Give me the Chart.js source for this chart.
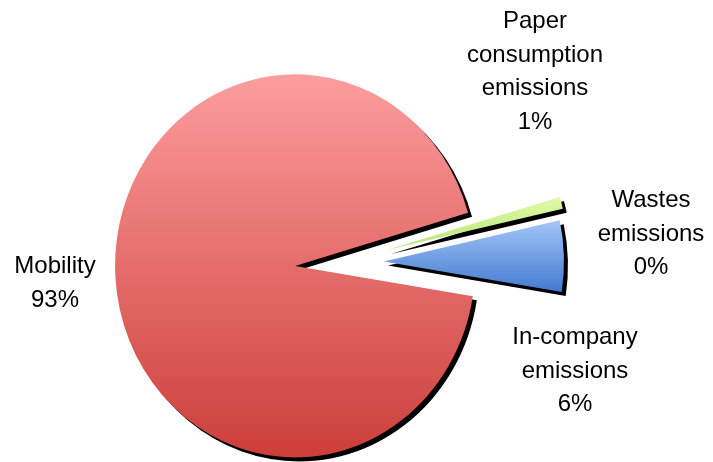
<!DOCTYPE html>
<html>
<head>
<meta charset="utf-8">
<script src="https://cdn.jsdelivr.net/npm/chart.js@4.4.1/dist/chart.umd.min.js"></script>
<style>
  html, body { margin: 0; padding: 0; background: #ffffff; }
  canvas { display: block; }
</style>
</head>
<body>
<canvas id="emissions" width="713" height="462"></canvas>
<script>
// Emission sources and their share of the total (%)
const categories = ['Mobility', 'Paper consumption emissions', 'Wastes emissions', 'In-company emissions'];
const shares = [93, 1, 0, 6];
// Label text per slice (the percentage is appended from shares)
const labelNames = [['Mobility'], ['Paper', 'consumption', 'emissions'], ['Wastes', 'emissions'], ['In-company', 'emissions']];

// Styling / layout
const pieRadius = 180;          // px
const rotationDeg = 99.1;       // start of first slice (Chart.js convention)
const explodeBy = [44.5, 49, 0, 44.5];   // px each slice is pulled out
const verticalStretch = 1.064;
const gradientStops = [
  ['rgb(252,157,157)', 'rgb(204,62,58)'],
  ['rgb(224,250,168)', 'rgb(186,228,120)'],
  ['rgb(200,200,200)', 'rgb(150,150,150)'],
  ['rgb(163,198,247)', 'rgb(68,122,208)']
];
const labelAnchors = [[55, 273], [535, 28], [651, 207], [575, 344]];
const lineHeight = 33.5;
const labelFont = '24px "Liberation Sans", Arial, sans-serif';

function sliceAngles(i) {
  const total = shares.reduce((a, b) => a + b, 0);
  let a = (rotationDeg - 90) * Math.PI / 180;
  for (let k = 0; k < i; k++) a += shares[k] / total * 2 * Math.PI;
  return [a, a + shares[i] / total * 2 * Math.PI];
}

function sliceGradient(context) {
  const chart = context.chart;
  const i = context.dataIndex;
  const area = chart.chartArea;
  if (!area || i === undefined) return gradientStops[0][0];
  const cy = (area.top + area.bottom) / 2;
  const [a0, a1] = sliceAngles(i);
  const mid = (a0 + a1) / 2;
  const oy = cy + Math.sin(mid) * explodeBy[i];
  let lo = 0, hi = 0;
  for (let t = 0; t <= 90; t++) {
    const s = Math.sin(a0 + (a1 - a0) * t / 90);
    lo = Math.min(lo, s); hi = Math.max(hi, s);
  }
  if (hi - lo < 1e-3) hi = lo + 0.01;
  const g = chart.ctx.createLinearGradient(0, oy + lo * pieRadius, 0, oy + hi * pieRadius);
  g.addColorStop(0, gradientStops[i][0]);
  g.addColorStop(1, gradientStops[i][1]);
  return g;
}

// Pull slices outward along their mid angle, stretch vertically, drop shadow, labels
const pieDecor = {
  id: 'pieDecor',
  afterUpdate(chart) {
    chart.getDatasetMeta(0).data.forEach((arc, i) => {
      const mid = (arc.startAngle + arc.endAngle) / 2;
      arc.x += Math.cos(mid) * explodeBy[i];
      arc.y += Math.sin(mid) * explodeBy[i];
    });
  },
  beforeDatasetsDraw(chart) {
    const { ctx, chartArea } = chart;
    const cx = (chartArea.left + chartArea.right) / 2;
    const cy = (chartArea.top + chartArea.bottom) / 2;
    ctx.save();
    ctx.translate(cx, cy);
    ctx.scale(1, verticalStretch);
    ctx.translate(-cx, -cy);
    ctx.shadowColor = '#000000';
    ctx.shadowBlur = 0;
    ctx.shadowOffsetX = 4;
    ctx.shadowOffsetY = 4;
  },
  afterDatasetsDraw(chart) {
    chart.ctx.restore();
  },
  afterDraw(chart) {
    const ctx = chart.ctx;
    ctx.save();
    ctx.font = labelFont;
    ctx.fillStyle = '#000000';
    ctx.textAlign = 'center';
    ctx.textBaseline = 'alphabetic';
    labelNames.forEach((names, i) => {
      const lines = names.concat([shares[i] + '%']);
      const [x, y] = labelAnchors[i];
      lines.forEach((t, k) => ctx.fillText(t, x, y + k * lineHeight));
    });
    ctx.restore();
  }
};

new Chart(document.getElementById('emissions'), {
  type: 'pie',
  data: {
    labels: categories,
    datasets: [{
      data: shares,
      backgroundColor: sliceGradient,
      borderWidth: 0,
      hoverOffset: 0
    }]
  },
  options: {
    responsive: false,
    devicePixelRatio: 1,
    animation: false,
    events: [],
    radius: pieRadius,
    rotation: rotationDeg,
    layout: { padding: { left: 0, right: 34, top: 64, bottom: 0 } },
    plugins: {
      legend: { display: false },
      tooltip: { enabled: false }
    }
  },
  plugins: [pieDecor]
});
</script>
</body>
</html>
